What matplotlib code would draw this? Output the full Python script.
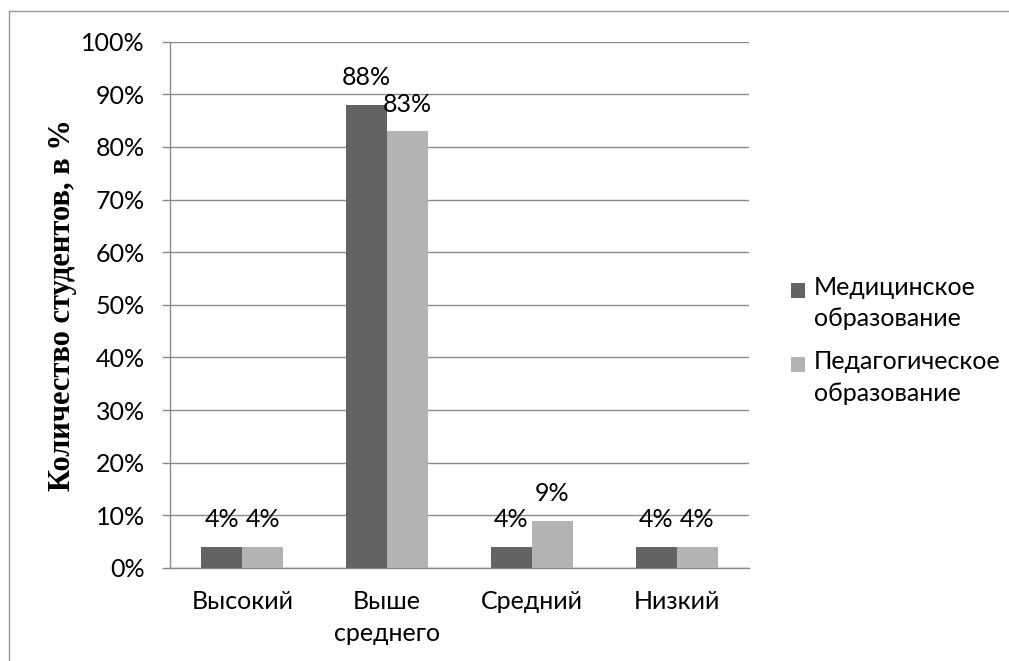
import matplotlib
matplotlib.use("Agg")
import matplotlib.pyplot as plt
from matplotlib.lines import Line2D

# data
categories = ["Высокий", "Выше\nсреднего", "Средний", "Низкий"]
medical = [4, 88, 4, 4]
pedagogical = [4, 83, 9, 4]
series_names = ["Медицинское\nобразование", "Педагогическое\nобразование"]
y_ticks = [0, 10, 20, 30, 40, 50, 60, 70, 80, 90, 100]

# styles
dark = "#636363"
light = "#b3b3b3"
grid_col = "#8a8a8a"
font = "Lato"
fs = 18
bar_w = 0.283

fig = plt.figure(figsize=(10.09, 6.61), dpi=100)
ax = fig.add_axes([0.1685, 0.1407, 0.5738, 0.7962])

x = list(range(len(categories)))
b1 = ax.bar([i - bar_w / 2 for i in x], medical, width=bar_w, color=dark,
            label=series_names[0], zorder=3)
b2 = ax.bar([i + bar_w / 2 for i in x], pedagogical, width=bar_w, color=light,
            label=series_names[1], zorder=3)

for bars, vals in [(b1, medical), (b2, pedagogical)]:
    for rect, v in zip(bars, vals):
        ax.annotate(f"{v}%", (rect.get_x() + rect.get_width() / 2, v),
                    xytext=(0, 19.5), textcoords="offset points",
                    ha="center", va="center", fontsize=fs, family=font,
                    color="#000000")

ax.set_xlim(-0.5, len(categories) - 0.5)
ax.set_ylim(0, 100)
ax.set_yticks(y_ticks)
ax.set_yticklabels([f"{t}%" for t in y_ticks], family=font, fontsize=fs)
ax.set_xticks(x)
ax.set_xticklabels(categories, family=font, fontsize=fs, linespacing=1.45)
ax.tick_params(axis="x", length=0, pad=16)
ax.tick_params(axis="y", length=6, width=1, color=grid_col, pad=12)

ax.grid(axis="y", color=grid_col, linewidth=1, zorder=0)
ax.set_axisbelow(True)
for s in ["top", "right"]:
    ax.spines[s].set_visible(False)
for s in ["left", "bottom"]:
    ax.spines[s].set_color(grid_col)
    ax.spines[s].set_linewidth(1)

ax.set_ylabel("Количество студентов, в %", family="Liberation Serif",
              fontweight="bold", fontsize=22)
ax.yaxis.set_label_coords(-0.16, 0.5)

leg = ax.legend(loc="center left", bbox_to_anchor=(0.762, 0.485),
                bbox_transform=fig.transFigure, frameon=False,
                prop={"family": font, "size": fs}, handlelength=0.55,
                handleheight=0.55, handletextpad=0.35, labelspacing=0.8)
for t in leg.get_texts():
    t.set_linespacing(1.45)
# put the square next to the first line of each label
for h in leg.legend_handles:
    h.set_y(h.get_y() + fs * 0.55)

# outer chart frame
fig.add_artist(Line2D([8.5 / 1009, 8.5 / 1009], [0, 1 - 11 / 661],
                      transform=fig.transFigure, color="#999999", lw=1))
fig.add_artist(Line2D([8.5 / 1009, 1], [1 - 11 / 661, 1 - 11 / 661],
                      transform=fig.transFigure, color="#999999", lw=1))

fig.savefig("out.png", dpi=100, facecolor="white")
